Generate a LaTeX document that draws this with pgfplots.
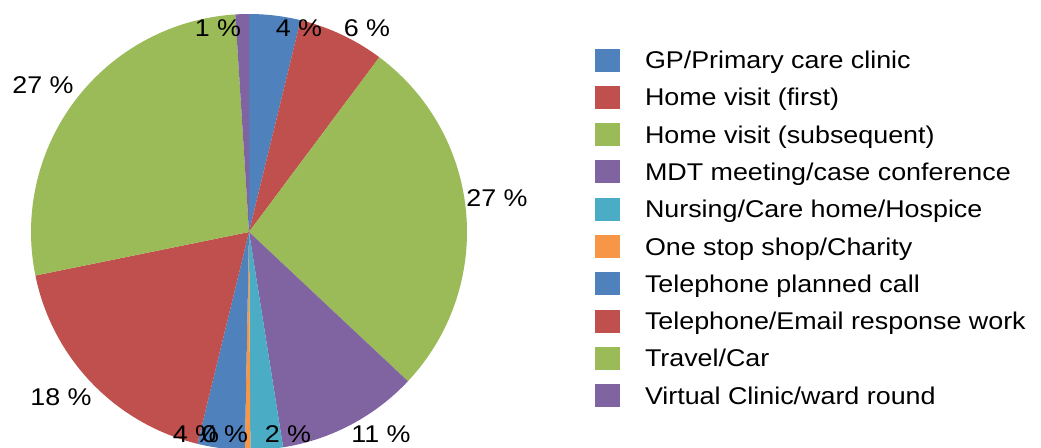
\documentclass[border=0pt]{standalone}
\usepackage{fontspec}
\setmainfont{Liberation Sans}[FakeStretch=1.11]
\usepackage{pgfplots}
\usepackage{pgfplotstable}
\pgfplotsset{compat=1.18}
\definecolor{cblue}{HTML}{4F81BD}
\definecolor{cred}{HTML}{C0504D}
\definecolor{cgreen}{HTML}{9BBB59}
\definecolor{cpurple}{HTML}{8064A2}
\definecolor{cteal}{HTML}{4BACC6}
\definecolor{corange}{HTML}{F79646}
\pgfplotsset{sqlegend/.style={legend image code/.code={\fill[##1] (0bp,-3bp) rectangle (25bp,20bp);}}}

\pgfplotstableread[col sep=comma]{
name,value,color,lab,lx,ly
GP/Primary care clinic,3.8,cblue,4,299,420
Home visit (first),6.4,cred,6,367,420
Home visit (subsequent),26.8,cgreen,27,497,250
MDT meeting/case conference,10.5,cpurple,11,381,14
Nursing/Care home/Hospice,2.4,cteal,2,288,14
One stop shop/Charity,0.4,corange,0,225,14
Telephone planned call,3.5,cblue,4,196,14
Telephone/Email response work,18.0,cred,18,61,51
Travel/Car,27.2,cgreen,27,43,363
Virtual Clinic/ward round,1.0,cpurple,1,218,420
}\pietab
\pgfplotstablecreatecol[expr accum={\pgfmathaccuma + \thisrow{value}}{0}]{cum}\pietab

\begin{document}
\begin{tikzpicture}
\useasboundingbox (0,0) rectangle (1041bp,448bp);
\begin{axis}[
  at={(0,0)}, anchor=south west,
  scale only axis, x=1bp, y=1bp,
  xmin=0, xmax=1041, ymin=0, ymax=448,
  hide axis,
  font=\fontsize{24.2bp}{29bp}\selectfont,
  legend cell align=left,
  legend style={at={(axis cs:595,399.5)}, anchor=north west,
    draw=none, fill=none, inner sep=0pt, outer sep=0pt,
    row sep=12.3bp, column sep=25bp,
    font=\fontsize{24.2bp}{29bp}\selectfont,
    nodes={inner sep=0pt, outer sep=0pt, text height=20bp, text depth=5bp, anchor=base west}},
]
\pgfplotsforeachungrouped \i in {0,...,9}{%
  \pgfplotstablegetelem{\i}{cum}\of\pietab
  \pgfmathsetmacro\aend{90-3.6*\pgfplotsretval}%
  \pgfplotstablegetelem{\i}{value}\of\pietab
  \pgfmathsetmacro\astart{\aend+3.6*\pgfplotsretval}%
  \pgfplotstablegetelem{\i}{color}\of\pietab
  \let\col\pgfplotsretval
  \pgfplotstablegetelem{\i}{name}\of\pietab
  \let\nm\pgfplotsretval
  \edef\tmp{\noexpand\addplot[fill=\col, draw=none, sqlegend,
      domain=\aend:\astart, samples=90]
      ({249+218*cos(x)},{216+218*sin(x)}) -- (axis cs:249,216) -- cycle;
    \noexpand\addlegendentry{\nm}}%
  \tmp
}
\pgfplotsforeachungrouped \i in {0,...,9}{%
  \pgfplotstablegetelem{\i}{lab}\of\pietab \let\lab\pgfplotsretval
  \pgfplotstablegetelem{\i}{lx}\of\pietab \let\lx\pgfplotsretval
  \pgfplotstablegetelem{\i}{ly}\of\pietab \let\ly\pgfplotsretval
  \edef\tmp{\noexpand\node[anchor=center, inner sep=0pt] at (axis cs:\lx,\ly) {\lab~\noexpand\%};}%
  \tmp
}
\end{axis}
\end{tikzpicture}
\end{document}
